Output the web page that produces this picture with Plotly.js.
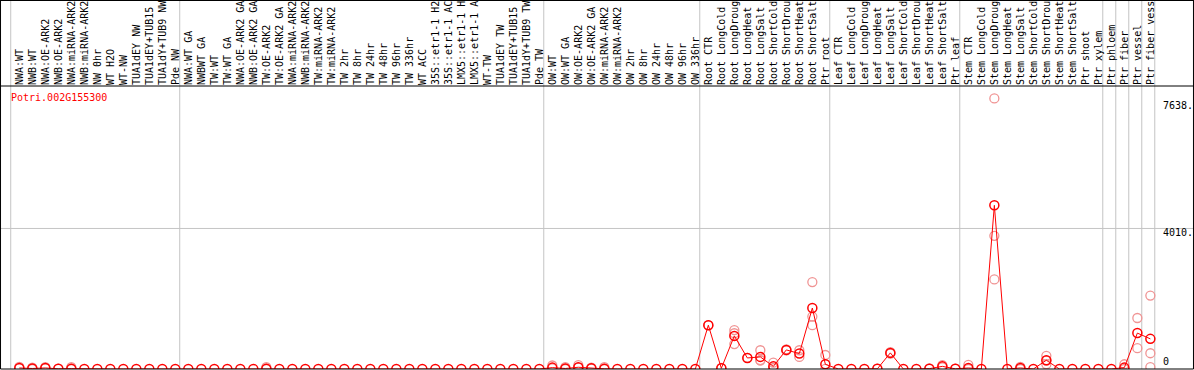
<!DOCTYPE html>
<html>
<head>
<meta charset="utf-8">
<script src="https://cdn.plot.ly/plotly-3.0.1.min.js"></script>
<style>html,body{margin:0;padding:0;background:#fff;}#chart{width:1194px;height:370px;}</style>
</head>
<body>
<div id="chart"></div>
<script>
const geneName = "Potri.002G155300";

const categories = [
  "NWA:WT","NWB:WT","NWA:OE-ARK2","NWB:OE-ARK2","NWA:miRNA-ARK2","NWB:miRNA-ARK2","NW 0hr","WT H2O","WT-NW","TUA1dEY NW","TUA1dEY+TUB15","TUA1dY+TUB9 NW","Pde NW",
  "NWA:WT GA","NWBWT GA","TW:WT","TW:WT GA","NWA:OE-ARK2 GA","NWB:OE-ARK2 GA","TW:OE-ARK2","TW:OE-ARK2 GA","NWA:miRNA-ARK2","NWB:miRNA-ARK2","TW:miRNA-ARK2","TW:miRNA-ARK2","TW 2hr","TW 8hr","TW 24hr","TW 48hr","TW 96hr","TW 336hr","WT ACC","35S::etr1-1 H2","35S::etr1-1 AC","LMX5::etr1-1 H","LMX5::etr1-1 A","WT-TW","TUA1dEY TW","TUA1dEY+TUB15","TUA1dY+TUB9 TW","Pde TW",
  "OW:WT","OW:WT GA","OW:OE-ARK2","OW:OE-ARK2 GA","OW:miRNA-ARK2","OW:miRNA-ARK2","OW 2hr","OW 8hr","OW 24hr","OW 48hr","OW 96hr","OW 336hr",
  "Root CTR","Root LongCold","Root LongDroug","Root LongHeat","Root LongSalt","Root ShortCold","Root ShortDrou","Root ShortHeat","Root ShortSalt","Ptr root",
  "Leaf CTR","Leaf LongCold","Leaf LongDroug","Leaf LongHeat","Leaf LongSalt","Leaf ShortCold","Leaf ShortDrou","Leaf ShortHeat","Leaf ShortSalt","Ptr leaf",
  "Stem CTR","Stem LongCold","Stem LongDroug","Stem LongHeat","Stem LongSalt","Stem ShortCold","Stem ShortDrou","Stem ShortHeat","Stem ShortSalt","Ptr shoot","Ptr xylem",
  "Ptr phloem","Ptr fiber","Ptr vessel","Ptr fiber vessel"
];

const meanValues = [
  30,15,30,5,10,0,0,0,0,0,0,0,0,
  0,0,0,0,0,0,10,0,0,0,0,0,0,0,0,0,0,0,0,0,0,0,0,0,0,0,0,0,
  40,15,50,20,5,0,0,0,0,0,0,0,
  1250,20,945,315,345,75,545,440,1740,135,
  0,0,0,5,460,0,0,10,75,5,
  30,0,4670,0,30,0,250,0,0,0,0,
  0,40,1025,860
];

const replicateValues = [
  [60,20],[40,0],[50,20],[10],[50,0],[],[],[],[],[],[],[],[],
  [],[],[],[],[],[],[50,0],[],[],[],[],[],[],[],[],[],[],[],[],[],[],[],[],[],[],[],[],[],
  [100,20],[50,0],[110,40],[40,10],[50,0],[],[],[],[],[],[],[],
  [1250],[30],[1110,1020,710],[315],[535,250,250],[180,25,25],[560,530],[535,345],[2480,1495,1250],[400,5],
  [],[],[],[10],[480,440],[],[],[15],[110,45],[10],
  [115,0],[],[7720,3800,2555],[],[60,0],[],[375,240,135],[],[],[],[],
  [],[135,0],[1455,595],[2095,450,55]
];

const groupBoundaries = [0,13,41,53,63,73,84,85,86,87,88];
const yTickValues = [7638, 4010, 0];
const yTickLabels = ["7638.", "4010.", "0"];

const idx = categories.map((c, i) => i);
const repX = [], repY = [];
replicateValues.forEach((arr, i) => arr.forEach(v => { repX.push(i); repY.push(v); }));

const mono = "DejaVu Sans Mono, Liberation Mono, monospace";
const topPaper = 1 + 86 / 283;

const shapes = [];
groupBoundaries.forEach(k => shapes.push({
  type: "line", xref: "x", yref: "paper", x0: k - 0.66, x1: k - 0.66, y0: 0, y1: topPaper,
  line: {color: "#c4c4c4", width: 1}, layer: "below"
}));
shapes.push({type: "line", xref: "paper", yref: "y", x0: -0.001, x1: 1.001, y0: 4010, y1: 4010,
  line: {color: "#c4c4c4", width: 1}, layer: "below"});
shapes.push({type: "rect", xref: "paper", yref: "paper", x0: -0.0004, x1: 1.0004, y0: 0, y1: 1,
  line: {color: "#000", width: 1}});
shapes.push({type: "line", xref: "paper", yref: "paper", x0: -0.0004, x1: -0.0004, y0: 1, y1: topPaper,
  line: {color: "#000", width: 1}});
shapes.push({type: "line", xref: "paper", yref: "paper", x0: 1.0004, x1: 1.0004, y0: 1, y1: topPaper,
  line: {color: "#000", width: 1}});
shapes.push({type: "line", xref: "paper", yref: "paper", x0: -0.0004, x1: 1.0004, y0: 1 + 85.5/283, y1: 1 + 85.5/283,
  line: {color: "#000", width: 1}});

const annotations = [{
  text: geneName, xref: "paper", yref: "paper", x: 8/1192, y: (369-97)/283,
  xanchor: "left", yanchor: "middle", showarrow: false, font: {family: mono, size: 10, color: "#ff0000"}
}];
yTickValues.forEach((v, i) => annotations.push({
  text: yTickLabels[i], xref: "paper", yref: "y", x: (1161-1)/1192, y: v,
  xanchor: "left", yanchor: v === 0 ? "bottom" : "middle", yshift: v === 0 ? 0 : -4,
  showarrow: false, font: {family: mono, size: 10, color: "#000"}
}));

const traces = [
  {x: repX, y: repY, type: "scatter", mode: "markers",
   marker: {symbol: "circle-open", size: 9, color: "#f09494", line: {width: 1.3, color: "#f09494"}},
   showlegend: false},
  {x: idx, y: meanValues, type: "scatter", mode: "lines+markers",
   line: {color: "#ff0000", width: 1},
   marker: {symbol: "circle-open", size: 9, color: "#ff0000", line: {width: 1.5, color: "#ff0000"}},
   showlegend: false}
];

const layout = {
  width: 1194, height: 370,
  margin: {l: 1, r: 1, t: 86, b: 1, pad: 0},
  paper_bgcolor: "#fff", plot_bgcolor: "#fff",
  showlegend: false,
  xaxis: {type: "linear", side: "top", range: [-1.408, 90.28], tickangle: -90,
    tickmode: "array", tickvals: idx, ticktext: categories,
    showgrid: false, zeroline: false, showline: false, ticks: "", ticklen: 0,
    tickfont: {family: mono, size: 10, color: "#000"}, automargin: false, fixedrange: true},
  yaxis: {range: [0, 8075], showgrid: false, zeroline: false, showline: false,
    showticklabels: false, ticks: "", automargin: false, fixedrange: true},
  shapes: shapes,
  annotations: annotations
};

Plotly.newPlot("chart", traces, layout, {displayModeBar: false, staticPlot: true});
</script>
</body>
</html>
